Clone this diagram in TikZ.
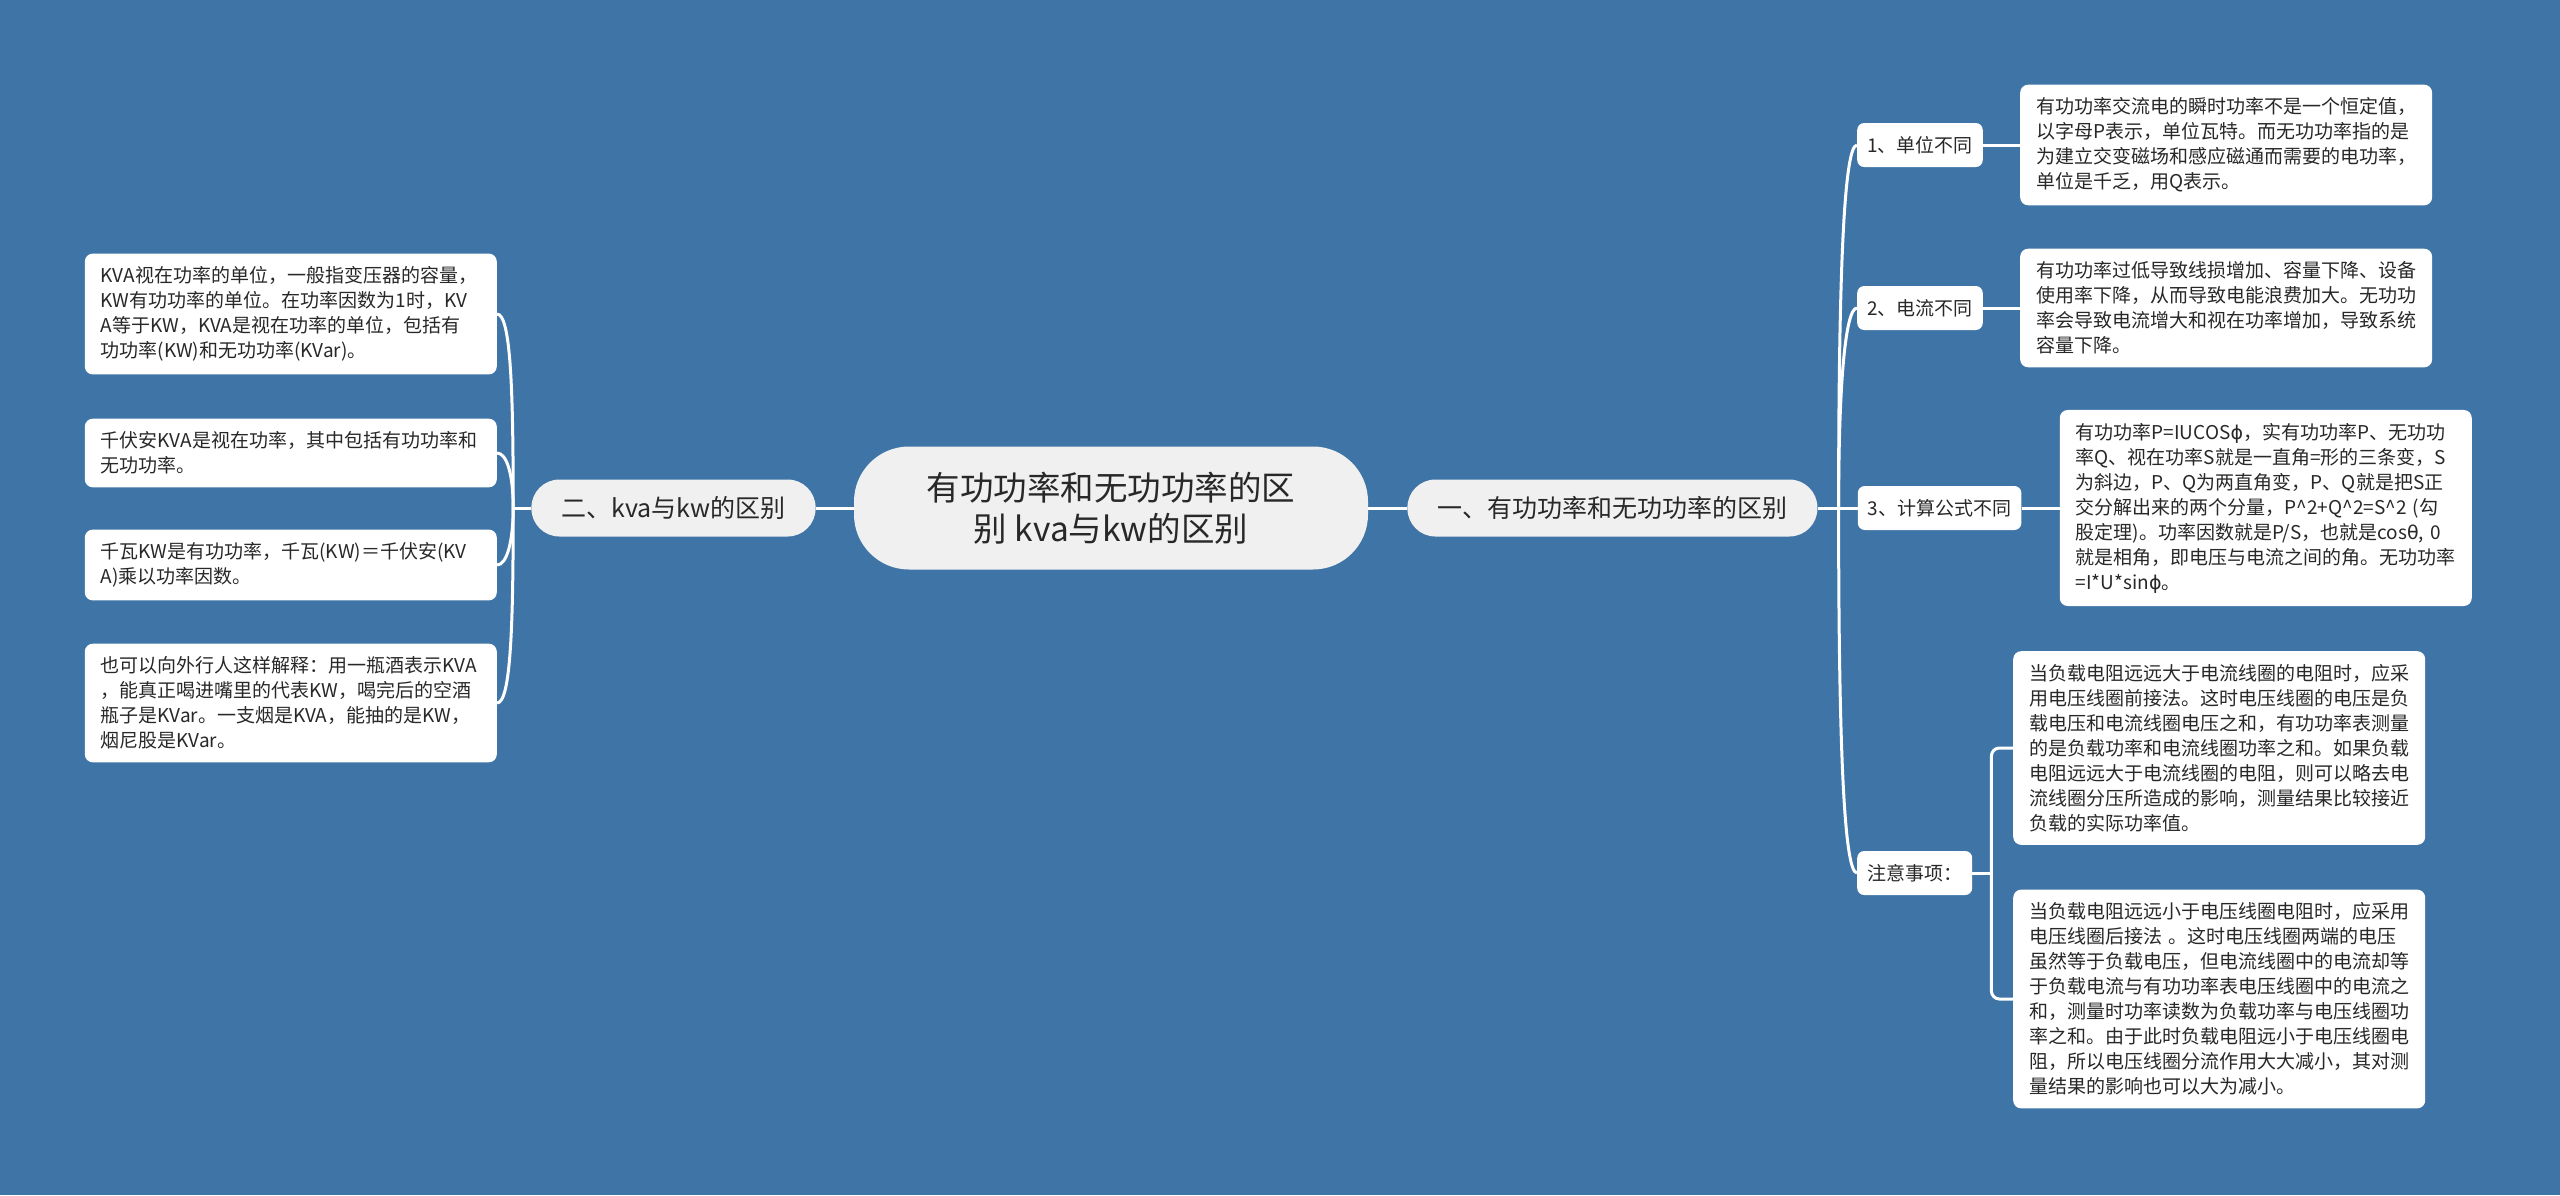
\documentclass[tikz,border=0pt]{standalone}
\usepackage{fontspec}
\setmainfont{Noto Sans CJK SC}
\newfontfamily\greekfont{DejaVu Sans}
\usetikzlibrary{calc,positioning}
\definecolor{bgColor}{RGB}{63,116,166}
\definecolor{rootColor}{RGB}{240,240,240}
\definecolor{textColor}{RGB}{40,40,40}
\newcommand{\rootfont}{\fontsize{33.5}{41}\selectfont}
\newcommand{\topicfont}{\fontsize{25}{30}\selectfont}
\newcommand{\leaffont}{\fontsize{19}{25}\selectfont}

\begin{document}
\begin{tikzpicture}[x=1pt, y=-1pt,
    rootbox/.style={fill=rootColor, rounded corners=55pt, minimum width=514pt, minimum height=123pt, align=center, font=\rootfont, text=textColor},
    topicbox/.style={fill=rootColor, rounded corners=28pt, minimum height=57pt, inner xsep=30pt, font=\topicfont, text=textColor},
    subbox/.style={fill=white, rounded corners=7pt, minimum height=44pt, inner xsep=10pt, font=\leaffont, text=textColor},
    leafbox/.style={fill=white, rounded corners=8pt, text width=380pt, inner xsep=16pt, inner ysep=13pt, align=left, font=\leaffont, text=textColor},
    link/.style={draw=white, line width=3pt},
    node distance=38pt
  ]
  \fill[bgColor] (0,0) rectangle (2560,1195);

  \node[rootbox] (root) at (1111,508) {有功功率和无功功率的区\\别 kva与kw的区别};
  \node[topicbox, left=38pt of root] (kva) {二、kva与kw的区别};
  \node[topicbox, right=39pt of root] (diff) {一、有功功率和无功功率的区别};

  \node[subbox, anchor=west] (unit) at (1857,145) {1、单位不同};
  \node[subbox, anchor=west] (curr) at (1857,308) {2、电流不同};
  \node[subbox, right=40pt of diff] (formula) {3、计算公式不同};
  \node[subbox, anchor=west] (note) at (1857,873) {注意事项：};

  \node[leafbox, right=37pt of unit] (unitText) {有功功率交流电的瞬时功率不是一个恒定值，\\以字母P表示，单位瓦特。而无功功率指的是\\为建立交变磁场和感应磁通而需要的电功率，\\单位是千乏，用Q表示。};
  \node[leafbox, right=37pt of curr] (currText) {有功功率过低导致线损增加、容量下降、设备\\使用率下降，从而导致电能浪费加大。无功功\\率会导致电流增大和视在功率增加，导致系统\\容量下降。};
  \node[leafbox, right=38pt of formula] (formulaText) {有功功率P=IUCOS{\greekfont ϕ}，实有功功率P、无功功\\率Q、视在功率S就是一直角=形的三条变，S\\为斜边，P、Q为两直角变，P、Q就是把S正\\交分解出来的两个分量，P\textasciicircum 2+Q\textasciicircum 2=S\textasciicircum 2 (勾\\股定理)。功率因数就是P/S，也就是cos{\greekfont θ}, 0\\就是相角，即电压与电流之间的角。无功功率\\=I*U*sin{\greekfont ϕ}。};
  \node[leafbox, anchor=west] (noteA) at (2013,748) {当负载电阻远远大于电流线圈的电阻时，应采\\用电压线圈前接法。这时电压线圈的电压是负\\载电压和电流线圈电压之和，有功功率表测量\\的是负载功率和电流线圈功率之和。如果负载\\电阻远远大于电流线圈的电阻，则可以略去电\\流线圈分压所造成的影响，测量结果比较接近\\负载的实际功率值。};
  \node[leafbox, anchor=west] (noteB) at (2013,999) {当负载电阻远远小于电压线圈电阻时，应采用\\电压线圈后接法 。这时电压线圈两端的电压\\虽然等于负载电压，但电流线圈中的电流却等\\于负载电流与有功功率表电压线圈中的电流之\\和，测量时功率读数为负载功率与电压线圈功\\率之和。由于此时负载电阻远小于电压线圈电\\阻，所以电压线圈分流作用大大减小，其对测\\量结果的影响也可以大为减小。};

  \node[leafbox, anchor=east] (kvaA) at (497,314) {KVA视在功率的单位，一般指变压器的容量，\\KW有功功率的单位。在功率因数为1时，KV\\A等于KW，KVA是视在功率的单位，包括有\\功功率(KW)和无功功率(KVar)。};
  \node[leafbox, anchor=east] (kvaB) at (497,453) {千伏安KVA是视在功率，其中包括有功功率和\\无功功率。};
  \node[leafbox, anchor=east] (kvaC) at (497,565) {千瓦KW是有功功率，千瓦(KW)＝千伏安(KV\\A)乘以功率因数。};
  \node[leafbox, anchor=east] (kvaD) at (497,703) {也可以向外行人这样解释：用一瓶酒表示KVA\\，能真正喝进嘴里的代表KW，喝完后的空酒\\瓶子是KVar。一支烟是KVA，能抽的是KW，\\烟尼股是KVar。};

  \coordinate (ljoin) at ($(kva.west)+(-18,0)$);
  \coordinate (rjoin) at ($(diff.east)+(21,0)$);
  \coordinate (njoin) at ($(note.east)+(19,0)$);

  \draw[link] (root) -- (kva);
  \draw[link] (root) -- (diff);
  \draw[link] (kva.west) -- (ljoin);
  \draw[link] (ljoin) .. controls +(0,-115) and +(14,0) .. (kvaA.east);
  \draw[link] (ljoin) .. controls +(0,-33) and +(10,0) .. (kvaB.east);
  \draw[link] (ljoin) .. controls +(0,33) and +(10,0) .. (kvaC.east);
  \draw[link] (ljoin) .. controls +(0,115) and +(14,0) .. (kvaD.east);

  \draw[link] (diff.east) -- (formula.west);
  \draw[link] (rjoin) .. controls +(0,-213) and +(-14,0) .. (unit.west);
  \draw[link] (rjoin) .. controls +(0,-120) and +(-12,0) .. (curr.west);
  \draw[link] (rjoin) .. controls +(0,215) and +(-14,0) .. (note.west);

  \draw[link] (unit.east) -- (unitText.west);
  \draw[link] (curr.east) -- (currText.west);
  \draw[link] (formula.east) -- (formulaText.west);
  \draw[link] (note.east) -- (njoin);
  \draw[link, rounded corners=8pt] (njoin) |- (noteA.west);
  \draw[link, rounded corners=8pt] (njoin) |- (noteB.west);
\end{tikzpicture}
\end{document}
